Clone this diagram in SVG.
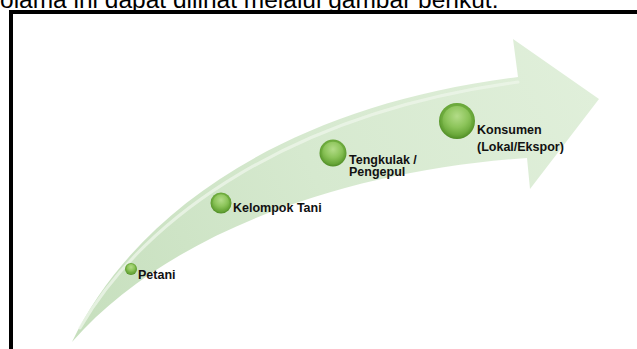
<svg xmlns="http://www.w3.org/2000/svg" width="637" height="349" viewBox="0 0 637 349">
  <defs>
    <linearGradient id="arrowFill" x1="72" y1="342" x2="599" y2="99" gradientUnits="userSpaceOnUse">
      <stop offset="0" stop-color="#c6dfbd"/>
      <stop offset="0.5" stop-color="#d6e9cf"/>
      <stop offset="1" stop-color="#e0efda"/>
    </linearGradient>
    <radialGradient id="ballOuter" cx="0.5" cy="0.45" r="0.55">
      <stop offset="0" stop-color="#8fc75c"/>
      <stop offset="0.8" stop-color="#6aa83a"/>
      <stop offset="1" stop-color="#4f8c25"/>
    </radialGradient>
    <radialGradient id="ballInner" cx="0.5" cy="0.35" r="0.65">
      <stop offset="0" stop-color="#b3dc88"/>
      <stop offset="0.6" stop-color="#8cc45a"/>
      <stop offset="1" stop-color="#6aa83a"/>
    </radialGradient>
  </defs>
  <style>
    .lbl { font-family: "Liberation Sans", Arial, sans-serif; font-size: 12.5px; font-weight: bold; fill: #111; }
    .top { font-family: "Liberation Sans", Arial, sans-serif; font-size: 24.5px; fill: #000; }
    .outer { fill: url(#ballOuter); }
    .inner { fill: url(#ballInner); }
  </style>

  <rect x="0" y="0" width="637" height="349" fill="#ffffff"/>
  <text class="top" x="0" y="8">olama ini dapat dilihat melalui gambar berikut.</text>
  <rect x="11" y="12" width="700" height="400" fill="none" stroke="#000" stroke-width="4"/>

  <g id="connectors">
    <path d="M72,342 C135,210 290,105 518,77 L513,39 L599,99 L530,189 L527,158 C350,170 170,230 72,342 Z" fill="url(#arrowFill)"/>
    <path d="M80,328 C145,215 295,112 518,82" fill="none" stroke="#ecf5e8" stroke-width="3" stroke-linecap="round" opacity="0.8"/>
  </g>

  <g id="petani">
    <circle class="outer" cx="131" cy="269" r="6"/>
    <circle class="inner" cx="131" cy="268.5" r="4.6"/>
    <text class="lbl" x="138" y="279">Petani</text>
  </g>
  <g id="kelompok-tani">
    <circle class="outer" cx="221" cy="203" r="10.5"/>
    <circle class="inner" cx="221" cy="202.5" r="8.3"/>
    <text class="lbl" x="233" y="212">Kelompok Tani</text>
  </g>
  <g id="tengkulak">
    <circle class="outer" cx="333" cy="153" r="13.5"/>
    <circle class="inner" cx="333" cy="152.5" r="10.8"/>
    <text class="lbl" x="349" y="164">Tengkulak /</text>
    <text class="lbl" x="349" y="176">Pengepul</text>
  </g>
  <g id="konsumen">
    <circle class="outer" cx="457" cy="121" r="18"/>
    <circle class="inner" cx="457" cy="120.5" r="14.5"/>
    <text class="lbl" x="477" y="134">Konsumen</text>
    <text class="lbl" x="477" y="151">(Lokal/Ekspor)</text>
  </g>
</svg>
